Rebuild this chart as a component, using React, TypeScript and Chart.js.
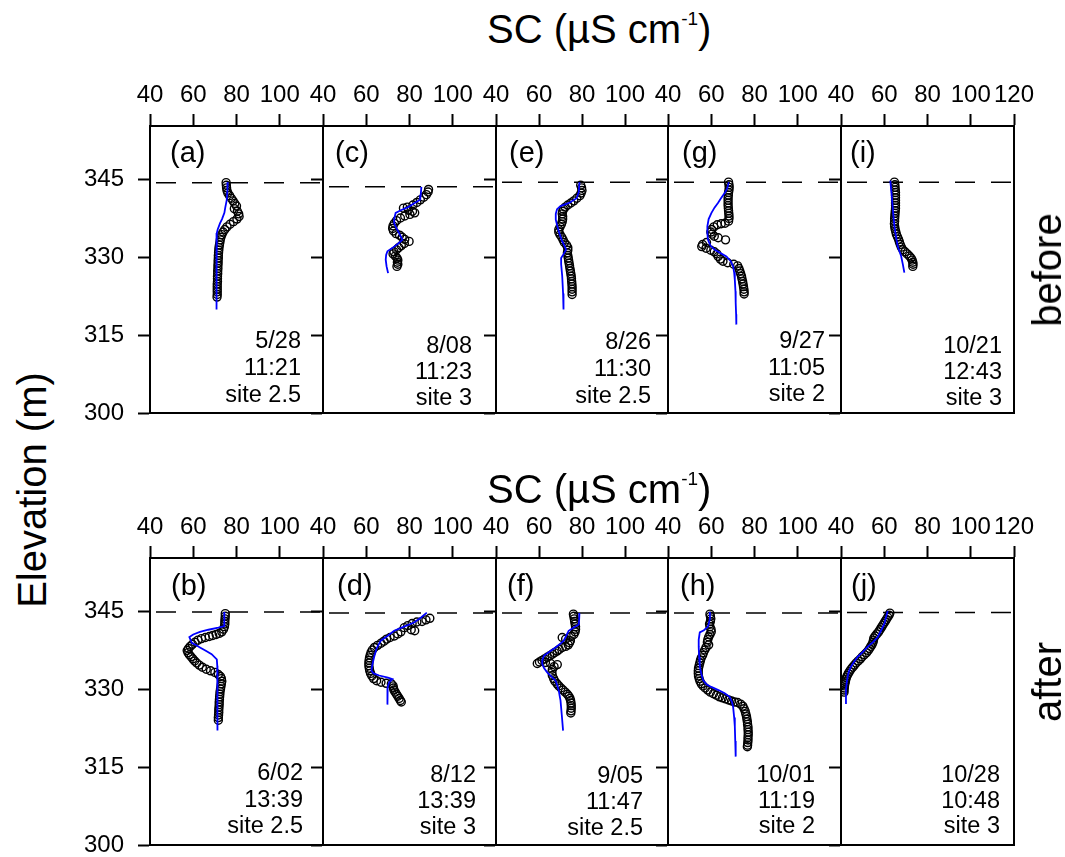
import React, { useEffect, useRef } from 'react';
import { Chart, registerables } from 'chart.js';
Chart.register(...registerables);

const FONT = "'Liberation Sans', Arial, Helvetica, sans-serif";

// ---- axis ticks ----
const xTicks = [40, 60, 80, 100];
const xTicksLast = [40, 60, 80, 100, 120];
const yTicks = [300, 315, 330, 345];
const X_MIN = 40, X_MAX = 120, Y_MIN = 300, Y_MAX = 355.2;

// ---- data: [SC, elevation] ----
// (a) 5/28 before
const ptsA = [[75.2,344.3],[75.3,343.8],[75.4,343.3],[75.6,342.8],[76.0,342.3],[76.8,341.8],[77.6,341.3],[78.4,340.8],[79.2,340.3],[80.0,339.8],[79.0,339.3],[80.4,338.8],[81.0,338.3],[81.2,337.8],[80.2,337.3],[78.6,336.8],[77.0,336.3],[75.6,335.8],[74.6,335.3],[73.8,334.8],[73.2,334.3],[72.8,333.8],[72.5,333.3],[72.3,332.8],[72.1,332.3],[71.9,331.8],[71.8,331.3],[71.7,330.8],[71.6,330.3],[71.6,329.8],[71.5,329.3],[71.5,328.8],[71.4,328.3],[71.4,327.8],[71.3,327.3],[71.3,326.8],[71.2,326.3],[71.2,325.8],[71.2,325.3],[71.1,324.8],[71.1,324.3],[71.1,323.8],[71.1,323.3],[71.1,322.8],[71.0,322.3]];
const fitA = [[76.0,344.4],[75.8,343.0],[75.5,341.0],[74.8,339.5],[74.4,338.5],[73.3,337.3],[72.4,336.5],[71.3,335.3],[70.9,334.6],[70.6,333.0],[70.6,332.0],[70.8,329.0],[70.9,326.3],[70.9,323.0],[70.8,319.9]];
// (c) 8/08 before
const ptsC = [[88.8,343.0],[88.6,342.5],[87.8,342.0],[86.6,341.5],[85.0,341.0],[83.4,340.5],[81.6,340.0],[79.0,339.6],[77.2,339.4],[79.5,339.0],[81.4,338.8],[82.4,338.5],[80.2,338.2],[77.8,337.9],[75.8,337.5],[74.0,337.0],[73.0,336.5],[72.4,336.0],[72.2,335.5],[72.6,335.0],[73.8,334.5],[75.4,334.2],[76.6,333.8],[77.8,333.4],[79.8,333.0],[77.6,332.6],[76.2,332.2],[75.0,331.8],[74.0,331.4],[72.8,331.0],[72.4,330.6],[73.4,330.2],[74.2,329.8],[74.6,329.4],[74.4,329.0],[74.6,328.6],[74.2,328.2]];
const fitC = [[85.5,343.5],[85.2,342.0],[84.9,341.0],[82.0,340.3],[79.8,339.7],[76.0,339.0],[73.6,338.5],[73.0,337.5],[72.9,336.5],[74.0,335.5],[75.2,334.6],[76.7,333.3],[74.8,332.6],[72.9,332.0],[69.8,331.1],[69.2,330.4],[69.0,329.5],[69.4,328.2],[70.1,326.9]];
// (e) 8/26 before
const ptsE = [[79.4,343.8],[79.8,343.3],[80.0,342.8],[79.6,342.3],[79.0,341.8],[77.6,341.3],[76.2,340.8],[74.8,340.4],[73.4,340.0],[72.2,339.6],[71.4,339.2],[71.0,338.8],[70.8,338.3],[71.0,337.8],[71.0,337.3],[70.8,336.8],[70.4,336.3],[69.8,335.8],[69.2,335.3],[69.2,334.8],[69.8,334.3],[70.6,333.8],[71.2,333.3],[71.8,332.8],[72.8,332.3],[73.4,331.8],[73.4,331.3],[73.2,330.8],[73.4,330.3],[73.6,329.8],[73.8,329.3],[74.0,328.8],[74.2,328.3],[74.4,327.8],[74.6,327.3],[74.8,326.8],[75.0,326.3],[75.1,325.8],[75.2,325.3],[75.3,324.8],[75.4,324.3],[75.4,323.8],[75.4,323.3],[75.4,322.8]];
const fitE = [[78.8,344.4],[78.5,342.5],[77.5,341.3],[74.0,340.4],[70.0,339.8],[68.4,339.2],[67.8,338.3],[67.8,337.2],[68.6,335.8],[69.6,334.4],[70.6,333.2],[71.8,332.2],[72.6,331.4],[71.5,330.6],[70.3,329.8],[70.3,328.6],[70.8,326.3],[71.2,323.0],[71.4,319.9]];
// (g) 9/27 before
const ptsG = [[68.0,344.4],[68.2,343.9],[68.3,343.4],[68.2,342.9],[68.0,342.4],[67.9,341.9],[67.8,341.4],[67.8,340.9],[67.8,340.4],[67.8,339.9],[67.9,339.4],[68.0,338.9],[68.1,338.4],[68.2,337.9],[68.2,337.4],[68.0,336.9],[66.4,336.5],[64.6,336.4],[62.8,336.2],[61.2,335.8],[60.2,335.3],[59.8,334.8],[60.4,334.4],[61.4,334.0],[63.2,333.7],[66.6,333.3],[57.8,332.8],[56.0,332.4],[55.6,332.0],[57.6,331.7],[59.8,331.3],[61.4,331.0],[62.6,330.6],[63.2,330.1],[64.2,329.6],[65.4,329.2],[67.6,328.9],[70.4,328.6],[72.2,328.3],[72.8,327.8],[73.2,327.3],[73.6,326.8],[74.0,326.3],[74.2,325.8],[74.5,325.3],[74.7,324.8],[74.9,324.3],[75.1,323.8],[75.2,323.3],[75.2,322.9]];
const fitG = [[68.1,344.4],[67.4,343.2],[66.2,342.3],[64.5,341.3],[63.1,340.4],[61.5,339.5],[60.1,338.5],[58.8,337.3],[58.2,335.9],[58.2,334.6],[58.5,333.3],[59.6,332.2],[61.6,331.4],[64.5,330.7],[67.0,330.1],[69.0,329.2],[70.1,328.2],[70.6,327.0],[70.9,325.6],[71.2,323.4],[71.3,321.2],[71.5,319.0],[71.6,317.0]];
// (i) 10/21 before
const ptsI = [[64.7,344.4],[64.9,343.9],[65.0,343.4],[65.1,342.9],[65.2,342.4],[65.2,341.9],[65.2,341.4],[65.2,340.9],[65.2,340.4],[65.2,339.9],[65.2,339.4],[65.1,338.9],[65.0,338.4],[64.9,337.9],[64.8,337.4],[64.8,336.9],[64.7,336.4],[64.8,335.9],[65.0,335.4],[65.3,334.9],[65.6,334.4],[66.1,333.9],[66.6,333.4],[67.0,332.9],[67.4,332.4],[67.9,331.9],[68.6,331.4],[69.6,331.0],[70.6,330.6],[71.6,330.2],[72.4,329.8],[72.9,329.4],[73.2,329.0],[73.3,328.6],[73.2,328.2]];
const fitI = [[62.8,344.7],[63.2,343.0],[63.6,341.0],[64.1,338.5],[64.7,335.9],[65.4,334.0],[66.2,332.1],[67.0,331.1],[67.8,330.2],[68.6,328.6],[69.3,327.0]];
// (b) 6/02 after
const ptsB = [[74.8,344.5],[74.8,344.0],[74.7,343.5],[74.6,343.0],[74.6,342.5],[74.4,342.0],[74.0,341.5],[73.2,341.0],[72.0,340.7],[70.6,340.5],[69.0,340.3],[67.4,340.1],[65.6,339.9],[63.8,339.7],[62.2,339.4],[60.8,339.0],[59.6,338.6],[58.6,338.2],[57.8,337.8],[57.2,337.4],[57.6,337.0],[58.2,336.6],[59.0,336.2],[59.8,335.8],[60.6,335.4],[61.6,335.0],[62.8,334.6],[64.2,334.2],[66.0,333.8],[68.0,333.5],[70.0,333.2],[71.6,332.8],[72.6,332.4],[73.0,332.0],[73.2,331.5],[73.0,331.0],[72.8,330.5],[72.6,330.0],[72.4,329.5],[72.3,329.0],[72.2,328.5],[72.1,328.0],[72.0,327.5],[72.0,327.0],[71.9,326.5],[71.8,326.0],[71.8,325.5],[71.7,325.0],[71.6,324.5],[71.6,324.0]];
const fitB = [[74.4,344.8],[74.4,343.4],[74.3,342.1],[71.6,341.8],[67.0,341.4],[63.1,341.0],[60.0,340.5],[58.2,340.0],[58.8,339.4],[59.3,338.9],[61.0,338.5],[63.1,338.0],[66.0,337.3],[68.5,336.7],[70.9,335.7],[71.1,334.5],[71.2,332.9],[71.2,330.0],[71.2,327.8],[71.2,325.0],[71.2,322.0]];
// (d) 8/12 after
const ptsD = [[89.4,343.6],[87.6,343.3],[85.8,343.0],[83.4,342.9],[81.2,342.6],[79.2,342.2],[77.6,341.8],[82.4,341.2],[80.8,341.4],[76.0,341.0],[74.6,340.6],[73.0,340.2],[71.0,339.9],[69.4,339.6],[68.2,339.2],[66.8,338.8],[65.2,338.4],[63.8,338.0],[62.8,337.5],[62.2,337.0],[61.8,336.5],[61.5,336.0],[61.3,335.5],[61.2,335.0],[61.2,334.5],[61.4,334.0],[61.6,333.5],[62.0,333.0],[62.6,332.5],[63.4,332.0],[64.8,331.6],[66.8,331.3],[69.2,331.1],[71.6,331.0],[72.4,330.6],[72.6,330.2],[72.8,329.8],[73.4,329.4],[74.0,329.0],[74.6,328.6],[75.2,328.2],[75.8,327.8],[76.2,327.5]];
const fitD = [[88.0,344.7],[85.5,343.8],[82.1,342.8],[77.5,342.0],[72.9,341.2],[69.8,340.2],[66.7,339.3],[64.8,337.8],[63.6,336.1],[62.8,334.6],[62.4,333.5],[63.4,333.0],[66.0,332.6],[70.0,332.2],[72.1,331.9],[70.6,331.3],[69.9,330.3],[69.8,328.6],[69.8,327.0]];
// (f) 9/05 after
const ptsF = [[76.0,344.4],[76.2,344.0],[76.4,343.5],[76.6,343.0],[76.8,342.5],[77.0,342.0],[77.0,341.5],[76.8,341.0],[76.2,340.5],[75.0,340.1],[70.8,339.9],[72.4,339.6],[74.6,339.3],[74.2,338.9],[73.6,338.5],[72.4,338.2],[70.8,338.0],[69.4,337.6],[68.4,337.3],[67.2,337.0],[66.2,336.7],[65.0,336.4],[63.8,336.1],[62.6,335.8],[61.4,335.5],[60.2,335.2],[59.2,334.9],[63.0,335.1],[65.4,334.9],[68.5,334.7],[67.0,334.3],[66.2,333.8],[66.0,333.2],[66.2,332.6],[66.8,332.0],[67.4,331.5],[68.4,331.0],[69.2,330.6],[70.2,330.2],[71.2,329.8],[72.2,329.4],[73.2,329.0],[73.9,328.6],[74.4,328.2],[74.7,327.8],[74.9,327.3],[75.0,326.8],[75.0,326.3],[74.9,325.8],[74.8,325.4]];
const fitF = [[78.8,344.6],[78.7,343.5],[78.5,342.4],[76.0,341.8],[73.8,341.2],[72.6,340.2],[71.5,339.3],[69.6,338.6],[67.7,338.0],[65.0,337.2],[62.3,336.4],[61.6,335.6],[61.5,334.8],[62.4,334.0],[63.8,333.2],[65.8,332.4],[67.7,331.6],[68.6,330.6],[69.2,329.7],[69.7,328.5],[70.0,327.8],[70.6,325.0],[71.2,322.0]];
// (h) 10/01 after
const ptsH = [[59.4,344.4],[59.6,344.0],[59.8,343.5],[59.6,343.0],[59.2,342.5],[59.4,342.0],[59.9,341.5],[60.0,341.0],[59.4,340.5],[58.8,340.0],[58.4,339.5],[58.2,339.0],[58.8,338.5],[57.6,338.0],[57.0,337.5],[56.4,337.0],[56.0,336.5],[55.4,336.0],[55.0,335.5],[54.7,335.0],[54.4,334.5],[54.1,334.0],[54.0,333.5],[54.0,333.0],[54.1,332.5],[54.4,332.0],[54.8,331.5],[55.4,331.0],[56.2,330.6],[57.2,330.2],[58.4,329.8],[59.6,329.4],[61.0,329.1],[62.4,328.8],[63.8,328.5],[65.2,328.3],[66.6,328.1],[68.0,327.9],[69.4,327.7],[70.8,327.5],[72.2,327.4],[73.6,327.1],[74.6,326.7],[75.2,326.2],[75.7,325.7],[76.0,325.2],[76.3,324.7],[76.5,324.2],[76.7,323.7],[76.8,323.2],[77.0,322.7],[77.0,322.2],[77.1,321.7],[77.1,321.2],[77.0,320.7],[77.0,320.2],[76.9,319.7],[76.8,319.2],[76.7,318.9]];
const fitH = [[59.3,344.8],[59.4,343.5],[58.5,342.0],[56.6,341.3],[54.7,340.9],[54.2,339.5],[54.2,338.1],[54.4,336.2],[54.7,334.3],[55.4,333.0],[56.2,331.7],[57.8,330.9],[60.0,330.4],[63.3,329.8],[66.2,329.2],[68.5,328.5],[69.6,327.5],[70.1,326.6],[70.6,324.5],[70.9,322.8],[71.1,320.0],[71.3,317.0]];
// (j) 10/28 after
const ptsJ = [[62.6,344.6],[62.2,344.2],[61.6,343.8],[61.0,343.4],[60.4,343.0],[59.8,342.6],[59.2,342.2],[58.6,341.8],[58.0,341.4],[57.4,341.0],[56.6,340.6],[55.8,340.2],[55.2,339.8],[55.0,339.4],[54.8,339.0],[54.4,338.6],[53.8,338.2],[53.2,337.8],[52.6,337.4],[51.8,337.0],[50.8,336.6],[49.8,336.2],[49.0,335.8],[48.0,335.4],[47.0,335.0],[46.2,334.6],[45.4,334.2],[44.6,333.8],[44.0,333.4],[43.4,333.0],[42.9,332.6],[42.5,332.2],[42.2,331.8],[42.0,331.4],[41.8,331.0],[41.6,330.6],[41.5,330.2],[41.4,329.8],[41.4,329.4]];
const fitJ = [[61.6,345.0],[60.8,343.8],[60.1,342.6],[58.6,341.3],[57.0,340.0],[54.8,339.0],[52.3,338.1],[50.0,337.1],[47.7,336.2],[46.0,335.2],[44.6,334.3],[43.6,333.3],[43.1,332.4],[42.6,331.1],[42.3,329.8],[42.3,327.1]];

// surface (dashed line) elevations
const surfTop = [344.3, 343.5, 344.4, 344.4, 344.4];
const surfBottom = [344.8, 344.6, 344.6, 344.6, 344.7];

// annotation texts
const labelsTop = ['(a)', '(c)', '(e)', '(g)', '(i)'];
const labelsBottom = ['(b)', '(d)', '(f)', '(h)', '(j)'];
const infoTop = [['5/28','11:21','site 2.5'],['8/08','11:23','site 3'],['8/26','11:30','site 2.5'],['9/27','11:05','site 2'],['10/21','12:43','site 3']];
const infoBottom = [['6/02','13:39','site 2.5'],['8/12','13:39','site 3'],['9/05','11:47','site 2.5'],['10/01','11:19','site 2'],['10/28','10:48','site 3']];

// ---- layout (pixels) ----
const COL_LEFT = [150, 323, 496, 668, 841];
const COL_W = [173, 173, 172, 173, 173];
const ROW_TOP = [126, 558];
const ROW_H = 287;
const PAD_L = 70, PAD_T = 60, PAD_R = 30, PAD_B = 40;
const LAB_X = [[20, 12, 13, 14, 9], [21, 14, 11, 12, 10]];
const LAB_Y = [35.5, 37];
const TXT_R = [[22, 24, 17, 16, 12], [20, 20, 25, 26, 14]];
const TXT_Y = [
  [[222, 249, 276], [227, 253, 279], [223, 250, 277], [222, 249, 275], [227, 253, 279]],
  [[222, 249, 275], [224, 250, 276], [225, 251, 277], [224, 250, 275], [224, 250, 275]],
];

const panels = [
  { row: 0, col: 0, pts: ptsA, fit: fitA },
  { row: 0, col: 1, pts: ptsC, fit: fitC },
  { row: 0, col: 2, pts: ptsE, fit: fitE },
  { row: 0, col: 3, pts: ptsG, fit: fitG },
  { row: 0, col: 4, pts: ptsI, fit: fitI },
  { row: 1, col: 0, pts: ptsB, fit: fitB },
  { row: 1, col: 1, pts: ptsD, fit: fitD },
  { row: 1, col: 2, pts: ptsF, fit: fitF },
  { row: 1, col: 3, pts: ptsH, fit: fitH },
  { row: 1, col: 4, pts: ptsJ, fit: fitJ },
];

const framePlugin = {
  id: 'frame',
  afterDatasetsDraw(chart: any, _args: any, opts: any) {
    const { ctx, chartArea } = chart;
    const { left, top, right, bottom } = chartArea;
    ctx.save();
    ctx.strokeStyle = '#000';
    ctx.lineWidth = 2;
    ctx.strokeRect(left, top, right - left, bottom - top);
    ctx.fillStyle = '#000';
    ctx.textBaseline = 'alphabetic';
    ctx.font = `29px ${FONT}`;
    ctx.textAlign = 'left';
    ctx.fillText(opts.label, left + opts.labX, top + opts.labY);
    ctx.font = `23.5px ${FONT}`;
    ctx.textAlign = 'right';
    opts.lines.forEach((t: string, i: number) => {
      ctx.fillText(t, right - opts.txtR, top + opts.txtY[i]);
    });
    ctx.restore();
  },
};

function Panel({ p }: { p: any }) {
  const ref = useRef<HTMLCanvasElement>(null);
  const left = COL_LEFT[p.col];
  const top = ROW_TOP[p.row];
  const w = COL_W[p.col];
  const cw = w + PAD_L + PAD_R;
  const ch = ROW_H + PAD_T + PAD_B;
  useEffect(() => {
    const isFirst = p.col === 0;
    const ticksX = p.col === 4 ? xTicksLast : xTicks;
    const surf = (p.row === 0 ? surfTop : surfBottom)[p.col];
    const label = (p.row === 0 ? labelsTop : labelsBottom)[p.col];
    const lines = (p.row === 0 ? infoTop : infoBottom)[p.col];
    const chart = new Chart(ref.current as HTMLCanvasElement, {
      type: 'scatter',
      data: {
        datasets: [
          {
            data: p.fit.map((d: number[]) => ({ x: d[0], y: d[1] })),
            showLine: true,
            borderColor: '#0000ff',
            borderWidth: 1.8,
            pointRadius: 0,
            tension: 0,
          },
          {
            data: p.pts.map((d: number[]) => ({ x: d[0], y: d[1] })),
            showLine: false,
            pointRadius: 4,
            pointBorderWidth: 1.4,
            pointBorderColor: '#000',
            pointBackgroundColor: 'rgba(0,0,0,0)',
          },
          {
            data: [{ x: X_MIN, y: surf }, { x: X_MAX, y: surf }],
            showLine: true,
            borderColor: '#000',
            borderWidth: 1.5,
            borderDash: [20, 16],
            borderDashOffset: 30,
            pointRadius: 0,
          },
        ],
      } as any,
      options: {
        responsive: false,
        maintainAspectRatio: false,
        animation: false,
        devicePixelRatio: 1,
        events: [],
        layout: { padding: { left: 0, top: 0, right: PAD_R, bottom: PAD_B } },
        plugins: {
          legend: { display: false },
          tooltip: { enabled: false },
          frame: {
            label,
            labX: LAB_X[p.row][p.col],
            labY: LAB_Y[p.row],
            lines,
            txtR: TXT_R[p.row][p.col],
            txtY: TXT_Y[p.row][p.col],
          },
        } as any,
        scales: {
          x: {
            type: 'linear',
            position: 'top',
            min: X_MIN,
            max: X_MAX,
            afterBuildTicks: (s: any) => { s.ticks = ticksX.map((v) => ({ value: v })); },
            afterFit: (s: any) => { s.height = PAD_T; },
            grid: { drawOnChartArea: false, drawTicks: true, tickLength: 12, tickWidth: 2, tickColor: '#000' },
            border: { display: true, color: '#000', width: 2 },
            ticks: { color: '#000', font: { family: FONT, size: 24 }, padding: 4, autoSkip: false, maxRotation: 0, minRotation: 0 },
          },
          y: {
            type: 'linear',
            position: 'left',
            min: Y_MIN,
            max: Y_MAX,
            afterBuildTicks: (s: any) => { s.ticks = yTicks.map((v) => ({ value: v })); },
            afterFit: (s: any) => { s.width = PAD_L; },
            grid: { drawOnChartArea: false, drawTicks: true, tickLength: 12, tickWidth: 2, tickColor: '#000' },
            border: { display: true, color: '#000', width: 2 },
            ticks: { display: isFirst, color: '#000', font: { family: FONT, size: 24 }, padding: 14, autoSkip: false },
          },
        },
      } as any,
      plugins: [framePlugin as any],
    });
    return () => chart.destroy();
  }, []);
  return (
    <canvas
      ref={ref}
      width={cw}
      height={ch}
      style={{ position: 'absolute', left: left - PAD_L, top: top - PAD_T, width: cw, height: ch }}
    />
  );
}

const titleStyle: any = {
  position: 'absolute',
  font: `40px ${FONT}`,
  lineHeight: '40px',
  whiteSpace: 'nowrap',
  color: '#000',
};

function ScTitle({ baseline }: { baseline: number }) {
  return (
    <div style={{ ...titleStyle, left: 487, top: baseline - 33.9 }}>
      SC (µS cm<span style={{ fontSize: 19, position: 'relative', top: -18 }}>-1</span>)
    </div>
  );
}

function Rotated({ text, cx, cy }: { text: string; cx: number; cy: number }) {
  return (
    <div style={{ ...titleStyle, left: cx, top: cy, transform: 'translate(-50%, -50%) rotate(-90deg)' }}>
      {text}
    </div>
  );
}

export default function App() {
  return (
    <div style={{ position: 'absolute', left: 0, top: 0, width: 1065, height: 857, background: '#fff', overflow: 'hidden' }}>
      {panels.map((p, i) => (
        <Panel key={i} p={p} />
      ))}
      <ScTitle baseline={43.3} />
      <ScTitle baseline={503} />
      <Rotated text="Elevation (m)" cx={32} cy={490} />
      <Rotated text="before" cx={1047} cy={270} />
      <Rotated text="after" cx={1047} cy={682} />
    </div>
  );
}
